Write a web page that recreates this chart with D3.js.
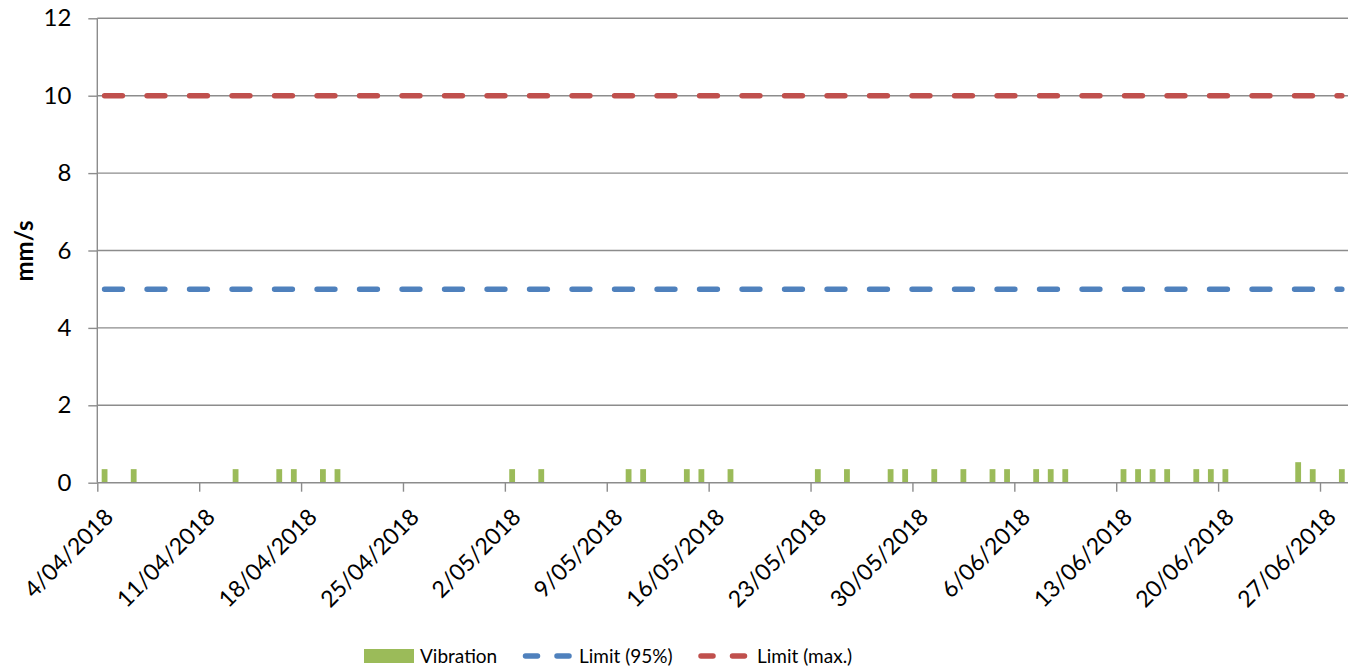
<!DOCTYPE html>
<html>
<head>
<meta charset="utf-8">
<script src="https://cdn.jsdelivr.net/npm/d3@7"></script>
<style>
  body { margin: 0; background: #fff; }
  text { font-family: Lato, "Open Sans", sans-serif; }
</style>
</head>
<body>
<div id="chart"></div>
<script>
// vibration readings (mm/s) per date
var vibrationDates = [
  "2018-04-04", "2018-04-06", "2018-04-13", "2018-04-16", "2018-04-17", "2018-04-19", "2018-04-20",
  "2018-05-02", "2018-05-04", "2018-05-10", "2018-05-11", "2018-05-14", "2018-05-15", "2018-05-17",
  "2018-05-23", "2018-05-25", "2018-05-28", "2018-05-29", "2018-05-31", "2018-06-02", "2018-06-04",
  "2018-06-05", "2018-06-07", "2018-06-08", "2018-06-09", "2018-06-13", "2018-06-14", "2018-06-15",
  "2018-06-16", "2018-06-18", "2018-06-19", "2018-06-20", "2018-06-25", "2018-06-26", "2018-06-28"
];
var vibrationValues = [
  0.35, 0.35, 0.35, 0.35, 0.35, 0.35, 0.35,
  0.35, 0.35, 0.35, 0.35, 0.35, 0.35, 0.35,
  0.35, 0.35, 0.35, 0.35, 0.35, 0.35, 0.35,
  0.35, 0.35, 0.35, 0.35, 0.35, 0.35, 0.35,
  0.35, 0.35, 0.35, 0.35, 0.53, 0.35, 0.35
];

// limit lines
var limitDates = ["2018-04-04", "2018-06-28"];
var limit95 = [5, 5];
var limitMax = [10, 10];

var xTickDates = [
  "2018-04-04", "2018-04-11", "2018-04-18", "2018-04-25", "2018-05-02", "2018-05-09", "2018-05-16",
  "2018-05-23", "2018-05-30", "2018-06-06", "2018-06-13", "2018-06-20", "2018-06-27"
];
var yTicks = [0, 2, 4, 6, 8, 10, 12];

var svgWidth = 1348, svgHeight = 670;
var parse = d3.utcParse("%Y-%m-%d");
var halfDay = 12 * 3600 * 1000;

var svg = d3.select("#chart").append("svg")
  .attr("width", svgWidth)
  .attr("height", svgHeight);

var x = d3.scaleUtc()
  .domain([parse("2018-04-04"), parse("2018-06-27")])
  .range([97.3, 1320]);

var y = d3.scaleLinear()
  .domain([0, 12])
  .range([482.7, 18.3]);

var plotRight = svgWidth;

// gridlines
svg.append("g")
  .selectAll("line")
  .data(yTicks.filter(d => d > 0))
  .enter().append("line")
  .attr("x1", x.range()[0])
  .attr("x2", plotRight)
  .attr("y1", d => y(d))
  .attr("y2", d => y(d))
  .attr("stroke", "#8c8c8c")
  .attr("stroke-width", 1.4);

// bars
var barWidth = 5.8;
svg.append("g")
  .selectAll("rect")
  .data(vibrationDates)
  .enter().append("rect")
  .attr("x", (d, i) => x(new Date(+parse(d) + halfDay)) - barWidth / 2)
  .attr("y", (d, i) => y(vibrationValues[i]))
  .attr("width", barWidth)
  .attr("height", (d, i) => y(0) - y(vibrationValues[i]))
  .attr("fill", "#9bbb59");

// limit lines
var line = d3.line()
  .x(d => x(new Date(+parse(d[0]) + halfDay)))
  .y(d => y(d[1]));

function limitLine(values, color) {
  svg.append("path")
    .datum(limitDates.map((d, i) => [d, values[i]]))
    .attr("d", line)
    .attr("fill", "none")
    .attr("stroke", color)
    .attr("stroke-width", 5.5)
    .attr("stroke-linecap", "round")
    .attr("stroke-dasharray", "17.8 24.7");
}
limitLine(limit95, "#4f81bd");
limitLine(limitMax, "#c0504d");

// y axis
var leftAxis = d3.axisLeft(y).tickValues(yTicks).tickSize(9).tickPadding(17);
var yAxis = svg.append("g")
  .attr("transform", `translate(${x.range()[0]},0)`)
  .call(leftAxis);
yAxis.select(".domain").remove();
yAxis.append("line")
  .attr("x1", 0).attr("x2", 0)
  .attr("y1", y(12)).attr("y2", y(0))
  .attr("stroke", "#8c8c8c").attr("stroke-width", 1.4);
yAxis.selectAll(".tick line").attr("stroke", "#8c8c8c").attr("stroke-width", 1.4);
yAxis.selectAll(".tick text")
  .attr("fill", "#000")
  .style("font-size", "24px")
  .style("font-family", "Lato");

// x axis
var bottomAxis = d3.axisBottom(x)
  .tickValues(xTickDates.map(parse))
  .tickFormat(d3.utcFormat("%-d/%m/%Y"))
  .tickSize(9);
var xAxis = svg.append("g")
  .attr("transform", `translate(0,${y(0)})`)
  .call(bottomAxis);
xAxis.select(".domain").remove();
xAxis.append("line")
  .attr("x1", x.range()[0]).attr("x2", plotRight)
  .attr("y1", 0).attr("y2", 0)
  .attr("stroke", "#8c8c8c").attr("stroke-width", 1.4);
xAxis.selectAll(".tick line").attr("stroke", "#8c8c8c").attr("stroke-width", 1.4);
xAxis.selectAll(".tick text")
  .attr("fill", "#000")
  .attr("text-anchor", "end")
  .attr("dy", "0.7em")
  .attr("transform", "translate(-3,16) rotate(-45)")
  .style("font-size", "23px")
  .style("font-family", "Lato");

// y axis title
svg.append("text")
  .attr("transform", "translate(33,251) rotate(-90)")
  .attr("text-anchor", "middle")
  .style("font-size", "24px")
  .style("font-weight", "bold")
  .text("mm/s");

// legend
var legend = svg.append("g");
legend.append("rect")
  .attr("x", 364).attr("y", 649)
  .attr("width", 50).attr("height", 14)
  .attr("fill", "#9bbb59");
legend.append("text")
  .attr("x", 420).attr("y", 663)
  .style("font-size", "19px")
  .text("Vibration");

[[525.5, 569, "#4f81bd", "Limit (95%)", 579], [701, 744.5, "#c0504d", "Limit (max.)", 757]].forEach(function(item) {
  legend.append("line")
    .attr("x1", item[0]).attr("x2", item[1])
    .attr("y1", 656).attr("y2", 656)
    .attr("stroke", item[2])
    .attr("stroke-width", 5.5)
    .attr("stroke-linecap", "round")
    .attr("stroke-dasharray", "12 19.5");
  legend.append("text")
    .attr("x", item[4]).attr("y", 663)
    .style("font-size", "19px")
    .text(item[3]);
});
</script>
</body>
</html>
